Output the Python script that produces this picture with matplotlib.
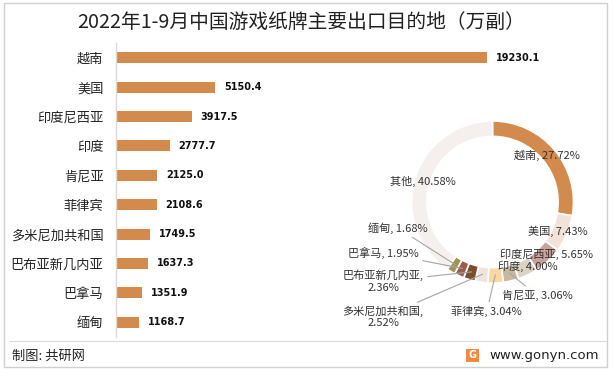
import matplotlib.pyplot as plt
from matplotlib.patches import Rectangle
from matplotlib.lines import Line2D
import numpy as np

plt.rcParams['font.family'] = ['Noto Sans CJK SC', 'DejaVu Sans']

### data
countries = ['越南', '美国', '印度尼西亚', '印度', '肯尼亚', '菲律宾',
             '多米尼加共和国', '巴布亚新几内亚', '巴拿马', '缅甸']
volumes = [19230.1, 5150.4, 3917.5, 2777.7, 2125.0, 2108.6,
           1749.5, 1637.3, 1351.9, 1168.7]

share_names = ['越南', '美国', '印度尼西亚', '印度', '肯尼亚', '菲律宾',
               '多米尼加共和国', '巴布亚新几内亚', '巴拿马', '缅甸', '其他']
share_pct = [27.72, 7.43, 5.65, 4.00, 3.06, 3.04, 2.52, 2.36, 1.95, 1.68, 40.58]
share_text = ['越南, 27.72%', '美国, 7.43%', '印度尼西亚, 5.65%', '印度, 4.00%',
              '肯尼亚, 3.06%', '菲律宾, 3.04%', '多米尼加共和国,\n2.52%',
              '巴布亚新几内亚,\n2.36%', '巴拿马, 1.95%', '缅甸, 1.68%', '其他, 40.58%']

### styles
bar_col = '#D38B4D'
pie_cols = ['#D38B4D', '#F2E3DA', '#C9A39B', '#DDD3C3', '#C8B89E', '#F9D9A0',
            '#F1E4DD', '#7B4F2E', '#9C5B4C', '#A39250', '#F5F0EE']
# label positions in donut coords (radius = 1)
lab_pos = [(0.67, 0.57), (0.81, -0.36), (0.67, -0.64), (0.44, -0.79),
           (0.55, -1.15), (-0.07, -1.35), (-1.35, -1.42), (-1.35, -0.98),
           (-1.35, -0.63), (-1.17, -0.32), (-0.86, 0.25)]
leader = [False, False, False, False, True, True, True, True, True, True, False]

W, H = 613, 369
def box(x0, y0, x1, y1):
    return [x0 / W, 1 - y1 / H, (x1 - x0) / W, (y1 - y0) / H]

fig = plt.figure(figsize=(W / 100, H / 100), dpi=100)

### bar chart
ax = fig.add_axes(box(116, 43, 487, 337))
y = np.arange(len(countries))
bars = ax.barh(y, volumes, height=0.37, color=bar_col)
ax.set_ylim(len(countries) - 0.5, -0.5)
ax.set_xlim(0, max(volumes))
ax.set_yticks(y)
ax.set_yticklabels(countries, fontsize=9.5, color='#222222')
ax.tick_params(axis='y', length=0, pad=9)
ax.set_xticks([])
for s in ['top', 'right', 'bottom']:
    ax.spines[s].set_visible(False)
ax.spines['left'].set_color('#D9D9D9')
ax.spines['left'].set_linewidth(1)
ax.bar_label(bars, fmt='%.1f', padding=6.5, fontsize=7, fontweight='bold',
             family='DejaVu Sans', color='#111111', clip_on=False)

### donut
cx, cy, r = 492.5, 202, 81
pad = 1.12
pax = fig.add_axes(box(cx - r * pad, cy - r * pad, cx + r * pad, cy + r * pad))
wedges, _ = pax.pie(share_pct, colors=pie_cols, startangle=90, counterclock=False,
                    radius=1, wedgeprops=dict(width=0.19, edgecolor='white', linewidth=1.2))
pax.set_xlim(-pad, pad)
pax.set_ylim(-pad, pad)
pax.set_aspect('equal')
pax.axis('off')

for w, txt, (lx, ly), ld in zip(wedges, share_text, lab_pos, leader):
    mid = np.deg2rad((w.theta1 + w.theta2) / 2)
    px, py = 0.9 * np.cos(mid), 0.9 * np.sin(mid)
    if ld:
        pax.annotate(txt, xy=(px, py), xytext=(lx, ly), ha='center', va='center',
                     fontsize=8, color='#333333', annotation_clip=False,
                     arrowprops=dict(arrowstyle='-', color='#A6A6A6', lw=0.8,
                                     shrinkA=1, shrinkB=0))
    else:
        pax.text(lx, ly, txt, ha='center', va='center', fontsize=8, color='#333333',
                 clip_on=False)

### title
fig.text(301 / W, 1 - 22 / H, '2022年1-9月中国游戏纸牌主要出口目的地（万副）',
         ha='center', va='center', fontsize=14.2, color='#222222')

### footer
fig.add_artist(Line2D([10 / W, 606 / W], [1 - 341 / H] * 2, color='#D9D9D9', lw=0.8))
fig.text(12 / W, 1 - 356 / H, '制图: 共研网', ha='left', va='center', fontsize=9.5,
         color='#222222')
fig.text(599 / W, 1 - 356 / H, 'www.gonyn.com', ha='right', va='center', fontsize=9.5,
         family='DejaVu Sans', color='#222222')
fig.add_artist(Rectangle((466 / W, 1 - 362 / H), 13 / W, 13 / H, transform=fig.transFigure,
                         facecolor='#F08A3C', edgecolor='none'))
fig.text(472.5 / W, 1 - 355.5 / H, 'G', ha='center', va='center', fontsize=7,
         fontweight='bold', family='DejaVu Sans', color='white')

### border
fig.add_artist(Rectangle((4 / W, 2 / H), 603 / W, 364 / H, transform=fig.transFigure,
                         fill=False, edgecolor='#D0D0D0', lw=1))

plt.savefig('out.png', dpi=100)
plt.close(fig)
